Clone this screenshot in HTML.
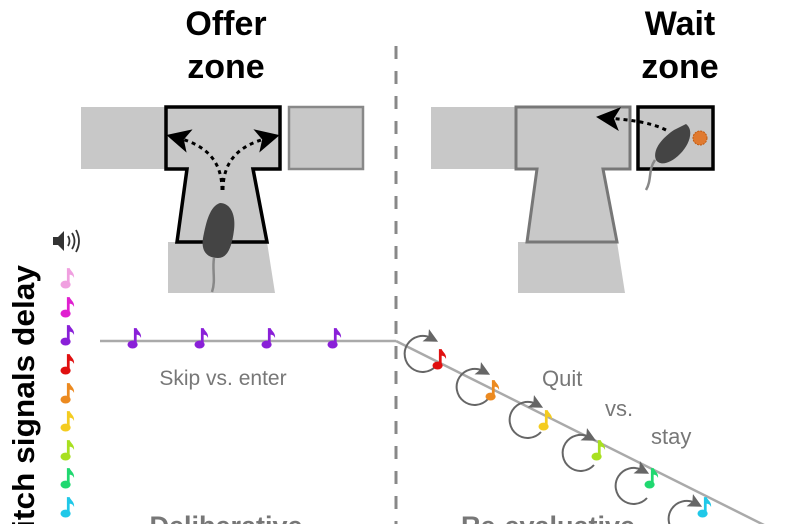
<!DOCTYPE html>
<html><head><meta charset="utf-8"><style>
html,body{margin:0;padding:0;background:#fff;overflow:hidden;width:800px;height:524px}
svg{display:block}
text{font-family:"Liberation Sans",sans-serif}
</style></head><body>
<svg width="800" height="524" viewBox="0 0 800 524" xmlns="http://www.w3.org/2000/svg">
<defs>
<symbol id="note" viewBox="0 0 14 20">
<path d="M6 16 V1 H8.5 C9.5 4 13 5 12.5 10 C11.5 7.5 10 7 8.5 7 V16 Z" />
<ellipse cx="4.8" cy="16" rx="4.6" ry="3.6"/>
</symbol>
<marker id="ah" markerWidth="8" markerHeight="8" refX="4" refY="4" orient="auto"><path d="M0,0 L8,4 L0,8 L2,4Z" fill="#000"/></marker>
<marker id="ag" markerWidth="7" markerHeight="7" refX="3" refY="3.5" orient="auto"><path d="M0,0 L7,3.5 L0,7 L1.5,3.5Z" fill="#666"/></marker>
</defs>

<text x="226" y="35" font-size="34" font-weight="bold" text-anchor="middle">Offer</text>
<text x="226" y="78" font-size="34" font-weight="bold" text-anchor="middle">zone</text>
<text x="680" y="35" font-size="34" font-weight="bold" text-anchor="middle">Wait</text>
<text x="680" y="78" font-size="34" font-weight="bold" text-anchor="middle">zone</text>

<line x1="396" y1="46" x2="396" y2="524" stroke="#888" stroke-width="3" stroke-dasharray="13,12"/>

<rect x="81" y="107" width="90" height="62" fill="#c8c8c8"/>
<polygon points="168,242 267,242 275,293 168,293" fill="#c8c8c8"/>
<polygon points="166,107 280,107 280,169 253,169 267,242 177,242 187,169 166,169" fill="#c8c8c8" stroke="#000" stroke-width="3.5"/>
<rect x="289" y="107" width="74" height="62" fill="#c8c8c8" stroke="#888" stroke-width="2.5"/>
<path d="M222,190 C222,160 205,145 178,138" fill="none" stroke="#000" stroke-width="3" stroke-dasharray="4,4" marker-end="url(#ah)"/>
<path d="M223,190 C223,160 240,145 268,138" fill="none" stroke="#000" stroke-width="3" stroke-dasharray="4,4" marker-end="url(#ah)"/>
<path d="M220,203 C230,203 236,214 234,230 C232,246 228,258 218,258 C206,258 201,250 203,238 C206,222 210,206 220,203Z" fill="#444"/>
<path d="M214,258 C212,270 216,280 212,292" stroke="#888" stroke-width="2.5" fill="none"/>

<rect x="431" y="107" width="90" height="62" fill="#c8c8c8"/>
<polygon points="518,242 617,242 625,293 518,293" fill="#c8c8c8"/>
<polygon points="516,107 630,107 630,169 603,169 617,242 527,242 537,169 516,169" fill="#c8c8c8" stroke="#777" stroke-width="3"/>
<rect x="638" y="107" width="75" height="62" fill="#c8c8c8" stroke="#000" stroke-width="3.5"/>
<circle cx="700" cy="138" r="7" fill="#e07a30" stroke="#c05a10" stroke-dasharray="2,1"/>
<path d="M666,130 C650,122 630,120 608,118" fill="none" stroke="#000" stroke-width="3" stroke-dasharray="4,4" marker-end="url(#ah)"/>
<path d="M686,124 C694,130 690,144 680,154 C670,164 660,166 656,160 C652,150 662,138 674,130Z" fill="#444"/>
<path d="M655,160 C648,170 652,180 646,190" stroke="#888" stroke-width="2.5" fill="none"/>

<polygon points="53,237 58,237 64,231 64,251 58,245 53,245" fill="#333"/>
<path d="M68,236 Q71,241 68,246 M72,233 Q77,241 72,249 M76,230 Q82,241 76,252" stroke="#333" stroke-width="1.8" fill="none"/>

<g>
<use href="#note" x="60" y="267" width="16" height="22" fill="#f0a0e0"/>
<use href="#note" x="60" y="296" width="16" height="22" fill="#e020d0"/>
<use href="#note" x="60" y="324" width="16" height="22" fill="#8a20d8"/>
<use href="#note" x="60" y="353" width="16" height="22" fill="#e01010"/>
<use href="#note" x="60" y="382" width="16" height="22" fill="#ec8a20"/>
<use href="#note" x="60" y="410" width="16" height="22" fill="#f4cc20"/>
<use href="#note" x="60" y="439" width="16" height="22" fill="#a8e020"/>
<use href="#note" x="60" y="467" width="16" height="22" fill="#20d870"/>
<use href="#note" x="60" y="496" width="16" height="22" fill="#20c8e8"/>
</g>

<text transform="translate(34,550) rotate(-90)" font-size="31" font-weight="bold" textLength="285" lengthAdjust="spacingAndGlyphs">Pitch signals delay</text>

<line x1="100" y1="341" x2="396" y2="341" stroke="#aaa" stroke-width="2.5"/>
<use href="#note" x="127" y="327" width="16" height="22" fill="#8a20d8"/>
<use href="#note" x="194" y="327" width="16" height="22" fill="#8a20d8"/>
<use href="#note" x="261" y="327" width="16" height="22" fill="#8a20d8"/>
<use href="#note" x="327" y="327" width="16" height="22" fill="#8a20d8"/>
<text x="223" y="385" font-size="21" fill="#777" text-anchor="middle">Skip vs. enter</text>

<line x1="396" y1="341" x2="770" y2="528" stroke="#aaa" stroke-width="2.5"/>
<g fill="none" stroke="#666" stroke-width="2" marker-end="url(#ag)">
<path d="M436,366 A18,18 0 1 1 431,338"/>
<path d="M488,399 A18,18 0 1 1 483,371"/>
<path d="M541,432 A18,18 0 1 1 536,404"/>
<path d="M594,465 A18,18 0 1 1 589,437"/>
<path d="M647,498 A18,18 0 1 1 642,470"/>
<path d="M700,531 A18,18 0 1 1 695,503"/>
<path d="M752,564 A18,18 0 1 1 747,536"/>
</g>
<use href="#note" x="432" y="348" width="16" height="22" fill="#e01010"/>
<use href="#note" x="485" y="379" width="16" height="22" fill="#ec8a20"/>
<use href="#note" x="538" y="409" width="16" height="22" fill="#f4cc20"/>
<use href="#note" x="591" y="439" width="16" height="22" fill="#a8e020"/>
<use href="#note" x="644" y="467" width="16" height="22" fill="#20d870"/>
<use href="#note" x="697" y="496" width="16" height="22" fill="#20c8e8"/>
<text x="542" y="386" font-size="22" fill="#777">Quit</text>
<text x="605" y="416" font-size="22" fill="#777">vs.</text>
<text x="651" y="444" font-size="22" fill="#777">stay</text>

<text x="226" y="535" font-size="27" font-weight="bold" fill="#777" text-anchor="middle">Deliberative</text>
<text x="548" y="535" font-size="27" font-weight="bold" fill="#777" text-anchor="middle">Re-evaluative</text>
</svg>
</body></html>
